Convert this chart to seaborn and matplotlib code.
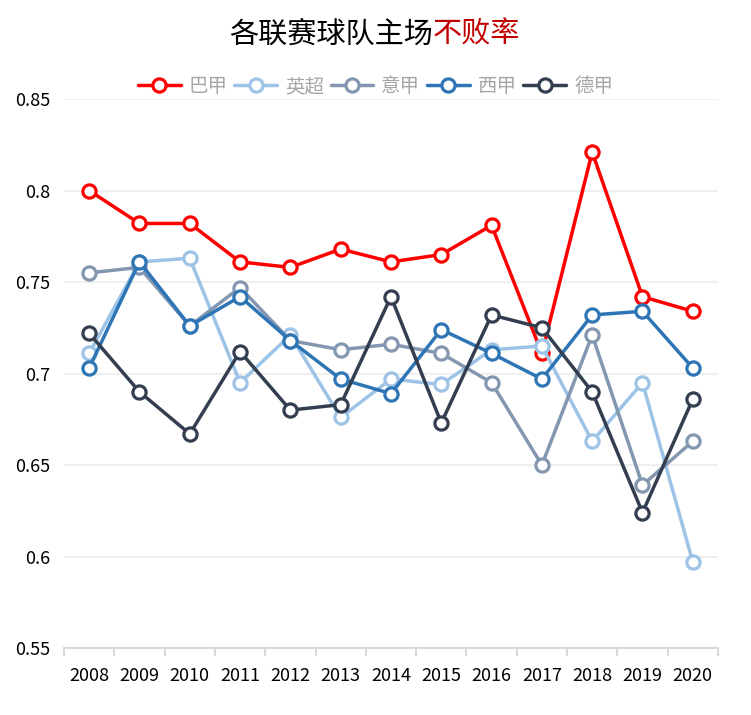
import matplotlib
matplotlib.use("Agg")
import matplotlib.pyplot as plt
import seaborn as sns
from matplotlib.ticker import FixedLocator

# data
years = ["2008", "2009", "2010", "2011", "2012", "2013", "2014",
         "2015", "2016", "2017", "2018", "2019", "2020"]
brazil = [0.800, 0.782, 0.782, 0.761, 0.758, 0.768, 0.761,
          0.765, 0.781, 0.711, 0.821, 0.742, 0.734]
premier = [0.711, 0.761, 0.763, 0.695, 0.721, 0.676, 0.697,
           0.694, 0.713, 0.715, 0.663, 0.695, 0.597]
serie_a = [0.755, 0.758, 0.726, 0.747, 0.718, 0.713, 0.716,
           0.711, 0.695, 0.650, 0.721, 0.639, 0.663]
laliga = [0.703, 0.761, 0.726, 0.742, 0.718, 0.697, 0.689,
          0.724, 0.711, 0.697, 0.732, 0.734, 0.703]
bundes = [0.722, 0.690, 0.667, 0.712, 0.680, 0.683, 0.742,
          0.673, 0.732, 0.725, 0.690, 0.624, 0.686]

names = ["巴甲", "英超", "意甲", "西甲", "德甲"]
colors = ["#FF0000", "#9DC3E6", "#8497B0", "#2E75B6", "#333F50"]
series = [brazil, premier, serie_a, laliga, bundes]
yticks = [0.55, 0.6, 0.65, 0.7, 0.75, 0.8, 0.85]
ytick_labels = ["0.55", "0.6", "0.65", "0.7", "0.75", "0.8", "0.85"]

sns.set_theme(style="white")
plt.rcParams['font.family'] = ['Noto Sans CJK SC', 'DejaVu Sans']

fig = plt.figure(figsize=(7.51, 7.15), dpi=100)
ax = fig.add_axes([0.0852, 0.0937, 0.8708, 0.7678])

for name, vals, c in zip(names, series, colors):
    sns.lineplot(x=years, y=vals, ax=ax, color=c, lw=2.5, marker="o",
                 ms=9.5, mfc="white", mec=c, mew=2.3, label=name, sort=False)

ax.set_ylim(0.55, 0.85)
ax.set_xlim(-0.5, len(years) - 0.5)
ax.set_yticks(yticks)
ax.set_yticklabels(ytick_labels)
ax.grid(axis="y", color="#EFEFEF", lw=1.5)
ax.set_axisbelow(True)

for s in ["top", "right", "left"]:
    ax.spines[s].set_visible(False)
ax.spines["bottom"].set_color("#D9D9D9")
ax.spines["bottom"].set_linewidth(1.5)

# tick marks sit between the year categories
ax.xaxis.set_minor_locator(FixedLocator([i - 0.5 for i in range(len(years) + 1)]))
ax.tick_params(axis="x", which="major", length=0, labelsize=13, pad=14, labelcolor="black")
ax.tick_params(axis="x", which="minor", length=6, width=1.5, color="#D9D9D9", bottom=True)
ax.tick_params(axis="y", length=0, labelsize=13, pad=10, labelcolor="black")
ax.set_xlabel("")
ax.set_ylabel("")

handles, labels = ax.get_legend_handles_labels()
ax.get_legend().remove()
fig.legend(handles, labels, loc="center", bbox_to_anchor=(0.5, 0.879), ncol=5,
           frameon=False, fontsize=14, labelcolor="#A6A6A6", handlelength=2.2,
           handletextpad=0.4, columnspacing=0.35)

fig.text(0.5766, 0.951, "各联赛球队主场", ha="right", va="center", fontsize=21, color="black")
fig.text(0.5766, 0.951, "不败率", ha="left", va="center", fontsize=21, color="#C00000")

fig.savefig("out.png", dpi=100)
